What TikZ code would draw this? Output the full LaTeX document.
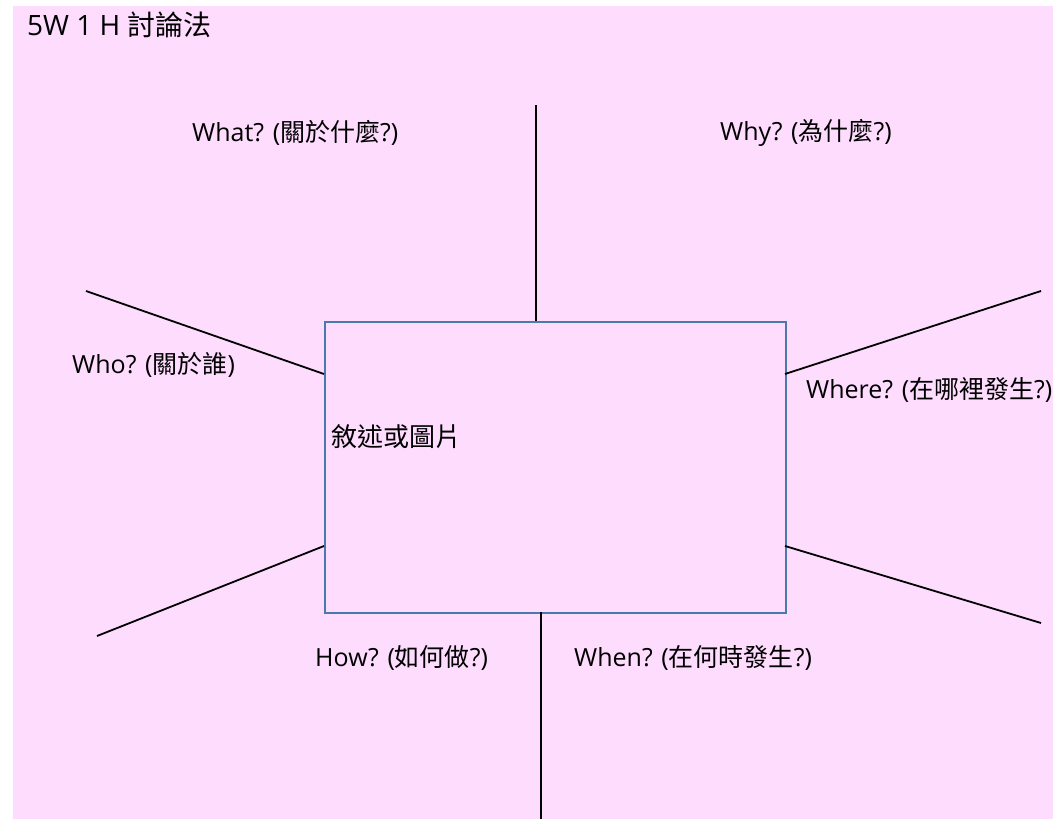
\documentclass[tikz,border=0pt]{standalone}
\usepackage{fontspec}
\setmainfont{Open Sans}
\newfontfamily\cjk{Noto Sans CJK TC}
\definecolor{bgpink}{RGB}{253,220,253}
\definecolor{boxblue}{RGB}{74,122,170}
\begin{document}
\begin{tikzpicture}[x=1pt,y=-1pt,
  lbl/.style={anchor=west,inner sep=0pt,font=\fontsize{25}{29}\selectfont},
  spoke/.style={draw=black,line width=1.8pt}]
\fill[white] (0,0) rectangle (1053,819);
\fill[bgpink] (13,6) rectangle (1053,819);
\useasboundingbox (0,0) rectangle (1053,819);
\node[draw=boxblue,line width=1.8pt,minimum width=461pt,minimum height=291pt,anchor=north west,inner sep=0pt] (box) at (324,321) {};
% spoke end points
\coordinate (tA) at (536,105);  \coordinate (tB) at (536,321);
\coordinate (bA) at (541,612);  \coordinate (bB) at (541,819);
\coordinate (luA) at (86,291);  \coordinate (luB) at (324,374);
\coordinate (llA) at (97,636);  \coordinate (llB) at (324,546);
\coordinate (ruA) at (785,374); \coordinate (ruB) at (1041,291);
\coordinate (rlA) at (785,546); \coordinate (rlB) at (1041,623);
\draw[spoke] (tA) -- (tB);
\draw[spoke] (bA) -- (bB);
\draw[spoke] (luA) -- (luB);
\draw[spoke] (llA) -- (llB);
\draw[spoke] (ruA) -- (ruB);
\draw[spoke] (rlA) -- (rlB);
% labels
\node[lbl,font=\fontsize{28}{32}\selectfont] (title) at (27,25) {5W 1 H {\cjk 討論法}};
\node[lbl] (what) at (192,133) {What? ({\cjk 關於什麼}?)};
\node[lbl] (why) at (720,133) {Why? ({\cjk 為什麼}?)};
\node[lbl] (who) at (72,365) {Who? ({\cjk 關於誰})};
\node[lbl] (where) at (806,390) {Where? ({\cjk 在哪裡發生}?)};
\node[lbl,font=\fontsize{26}{30}\selectfont] (desc) at (331,437) {\cjk 敘述或圖片};
\node[lbl] (how) at (315,658) {How? ({\cjk 如何做}?)};
\node[lbl] (when) at (574,658) {When? ({\cjk 在何時發生}?)};
\end{tikzpicture}
\end{document}
